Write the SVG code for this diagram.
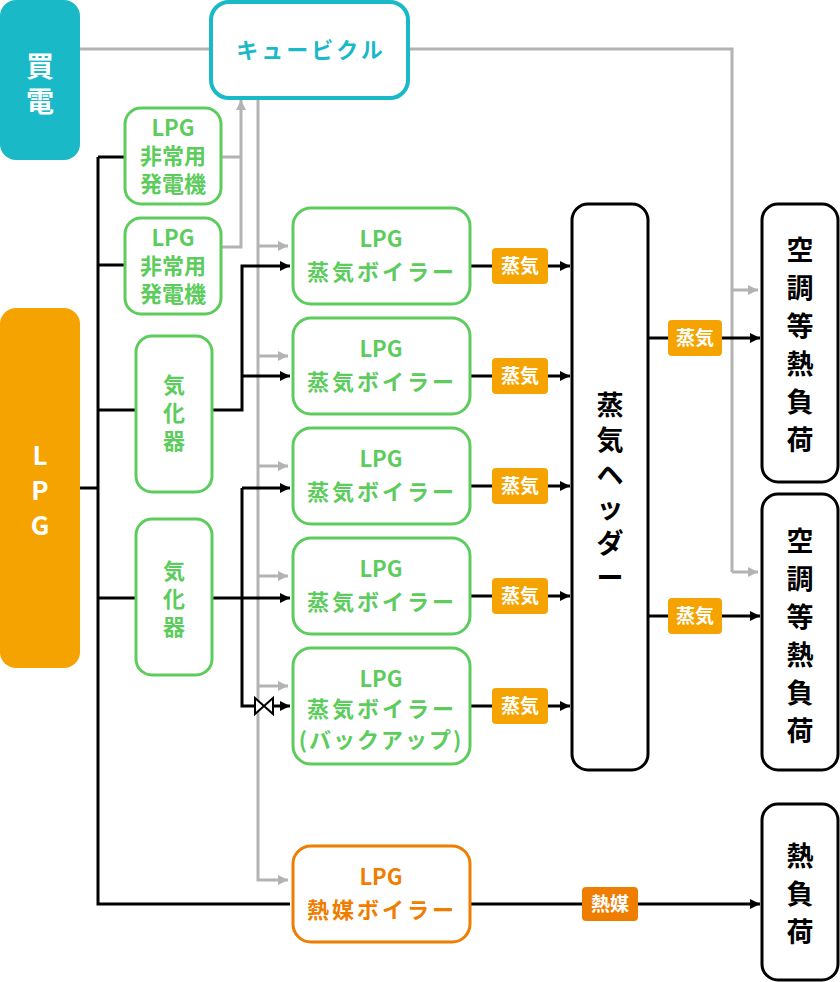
<svg xmlns="http://www.w3.org/2000/svg" width="840" height="982" viewBox="0 0 840 982">
<defs>
<marker id="ab" viewBox="0 0 10 10" refX="10" refY="5" markerWidth="10" markerHeight="10" markerUnits="userSpaceOnUse" orient="auto"><path d="M0,0L10,5L0,10z" fill="#000"/></marker>
<marker id="ag" viewBox="0 0 10 10" refX="10" refY="5" markerWidth="10" markerHeight="10" markerUnits="userSpaceOnUse" orient="auto"><path d="M0,0L10,5L0,10z" fill="#b3b3b3"/></marker>
<style>
text{font-family:"Noto Sans CJK JP","Noto Sans",sans-serif;font-weight:bold;text-anchor:middle}
.g{fill:#fff;stroke:#5ccc5c;stroke-width:3}
.gt{fill:#5ccc5c;font-size:22px}
.bt{letter-spacing:3px}
.k{fill:#fff;stroke:#000;stroke-width:3}
.kt{fill:#000;font-size:27px}
.bl{stroke:#000;stroke-width:3;fill:none}
.gr{stroke:#b3b3b3;stroke-width:3;fill:none}
.lab{fill:#f5a300}
.lt{fill:#fff;font-size:19px}
</style>
</defs>
<g id="connectors">
<path class="gr" d="M80,49H211M408,49H732V572"/>
<path class="gr" d="M732,290H758" marker-end="url(#ag)"/>
<path class="gr" d="M732,572H758" marker-end="url(#ag)"/>
<path class="gr" d="M258,98V880H288" marker-end="url(#ag)"/>
<path class="gr" d="M258,246H288" marker-end="url(#ag)"/><path class="gr" d="M258,356H288" marker-end="url(#ag)"/><path class="gr" d="M258,466H288" marker-end="url(#ag)"/><path class="gr" d="M258,576H288" marker-end="url(#ag)"/><path class="gr" d="M258,686H288" marker-end="url(#ag)"/>
<path class="gr" d="M221,157H241M221,247H241V100" marker-end="url(#ag)"/>
<path class="bl" d="M80,488H98M98,157V904H290M98,157H125M98,265H125M98,410H136M98,598H136"/>
<path class="bl" d="M212,410H242V266H290" marker-end="url(#ab)"/>
<path class="bl" d="M242,376H290" marker-end="url(#ab)"/>
<path class="bl" d="M212,598H290" marker-end="url(#ab)"/>
<path class="bl" d="M242,488V706H255M242,488H290" marker-end="url(#ab)"/>
<path class="bl" d="M273,706H290" marker-end="url(#ab)"/>
<path d="M255,698L273,714V698L255,714z" fill="#fff" stroke="#000" stroke-width="2"/>
<path class="bl" d="M470,266H570" marker-end="url(#ab)"/>
<path class="bl" d="M470,376H570" marker-end="url(#ab)"/>
<path class="bl" d="M470,486H570" marker-end="url(#ab)"/>
<path class="bl" d="M470,596H570" marker-end="url(#ab)"/>
<path class="bl" d="M470,706H570" marker-end="url(#ab)"/>
<path class="bl" d="M648,338H760" marker-end="url(#ab)"/>
<path class="bl" d="M648,616H760" marker-end="url(#ab)"/>
<path class="bl" d="M470,904H760" marker-end="url(#ab)"/>
<g>
<rect class="lab" x="492" y="248" width="56" height="36" rx="4"/><text class="lt" x="520" y="273">蒸気</text>
<rect class="lab" x="492" y="358" width="56" height="36" rx="4"/><text class="lt" x="520" y="383">蒸気</text>
<rect class="lab" x="492" y="468" width="56" height="36" rx="4"/><text class="lt" x="520" y="493">蒸気</text>
<rect class="lab" x="492" y="578" width="56" height="36" rx="4"/><text class="lt" x="520" y="603">蒸気</text>
<rect class="lab" x="492" y="688" width="56" height="36" rx="4"/><text class="lt" x="520" y="713">蒸気</text>
<rect class="lab" x="668" y="320" width="54" height="36" rx="4"/><text class="lt" x="695" y="345">蒸気</text>
<rect class="lab" x="668" y="598" width="54" height="36" rx="4"/><text class="lt" x="695" y="623">蒸気</text>
<rect x="582" y="887" width="56" height="34" rx="4" fill="#ef7d00"/><text class="lt" x="610" y="911">熱媒</text>
</g>
</g>
<g id="kaiden"><rect x="0" y="0" width="80" height="160" rx="16" fill="#19b9c8"/><text x="40" y="77" fill="#fff" font-size="28">買</text><text x="40" y="112" fill="#fff" font-size="28">電</text></g>
<g id="lpg"><rect x="0" y="308" width="80" height="360" rx="16" fill="#f5a300"/><text x="40" y="465" fill="#fff" font-size="26">L</text><text x="40" y="500" fill="#fff" font-size="26">P</text><text x="40" y="535" fill="#fff" font-size="26">G</text></g>
<g id="cubicle"><rect x="211" y="2" width="197" height="96" rx="18" fill="#fff" stroke="#19b9c8" stroke-width="4"/><text x="311" y="58" fill="#19b9c8" font-size="22" class="bt">キュービクル</text></g>
<g id="gen1"><rect class="g" x="125" y="108" width="96" height="96" rx="16"/><text class="gt" x="173" y="136">LPG</text><text class="gt" x="173" y="164">非常用</text><text class="gt" x="173" y="192">発電機</text></g>
<g id="gen2"><rect class="g" x="125" y="218" width="96" height="96" rx="16"/><text class="gt" x="173" y="246">LPG</text><text class="gt" x="173" y="274">非常用</text><text class="gt" x="173" y="302">発電機</text></g>
<g id="vap1"><rect class="g" x="136" y="336" width="76" height="156" rx="16"/><text class="gt" x="174" y="393">気</text><text class="gt" x="174" y="421">化</text><text class="gt" x="174" y="449">器</text></g>
<g id="vap2"><rect class="g" x="136" y="519" width="76" height="156" rx="16"/><text class="gt" x="174" y="579">気</text><text class="gt" x="174" y="607">化</text><text class="gt" x="174" y="635">器</text></g>
<g id="b1"><rect class="g" x="293" y="208" width="177" height="96" rx="18"/><text class="gt" x="381" y="247">LPG</text><text class="gt bt" x="382" y="280">蒸気ボイラー</text></g>
<g id="b2"><rect class="g" x="293" y="318" width="177" height="96" rx="18"/><text class="gt" x="381" y="357">LPG</text><text class="gt bt" x="382" y="390">蒸気ボイラー</text></g>
<g id="b3"><rect class="g" x="293" y="428" width="177" height="96" rx="18"/><text class="gt" x="381" y="467">LPG</text><text class="gt bt" x="382" y="500">蒸気ボイラー</text></g>
<g id="b4"><rect class="g" x="293" y="538" width="177" height="96" rx="18"/><text class="gt" x="381" y="577">LPG</text><text class="gt bt" x="382" y="610">蒸気ボイラー</text></g>
<g id="b5"><rect class="g" x="293" y="648" width="177" height="116" rx="18"/><text class="gt" x="381" y="687">LPG</text><text class="gt bt" x="382" y="717">蒸気ボイラー</text><text class="gt" x="381" y="748" font-size="19" letter-spacing="2">(バックアップ)</text></g>
<g id="hb"><rect x="293" y="846" width="177" height="96" rx="18" fill="#fff" stroke="#ef7d00" stroke-width="3"/><text x="381" y="885" fill="#ef7d00" font-size="22">LPG</text><text x="382" y="918" fill="#ef7d00" font-size="22" class="bt">熱媒ボイラー</text></g>
<g id="header"><rect class="k" x="572" y="204" width="76" height="566" rx="16"/><text class="kt" x="610" y="415">蒸</text><text class="kt" x="610" y="450">気</text><text class="kt" x="610" y="485">ヘ</text><text class="kt" x="610" y="518">ッ</text><text class="kt" x="610" y="553">ダ</text><text class="kt" x="610" y="588">ー</text></g>
<g id="load1"><rect class="k" x="762" y="204" width="76" height="278" rx="16"/><text class="kt" x="800" y="260">空</text><text class="kt" x="800" y="298">調</text><text class="kt" x="800" y="336">等</text><text class="kt" x="800" y="374">熱</text><text class="kt" x="800" y="412">負</text><text class="kt" x="800" y="450">荷</text></g>
<g id="load2"><rect class="k" x="762" y="494" width="76" height="276" rx="16"/><text class="kt" x="800" y="551">空</text><text class="kt" x="800" y="589">調</text><text class="kt" x="800" y="627">等</text><text class="kt" x="800" y="665">熱</text><text class="kt" x="800" y="703">負</text><text class="kt" x="800" y="741">荷</text></g>
<g id="load3"><rect class="k" x="762" y="804" width="76" height="176" rx="16"/><text class="kt" x="800" y="866">熱</text><text class="kt" x="800" y="904">負</text><text class="kt" x="800" y="942">荷</text></g>
</svg>
